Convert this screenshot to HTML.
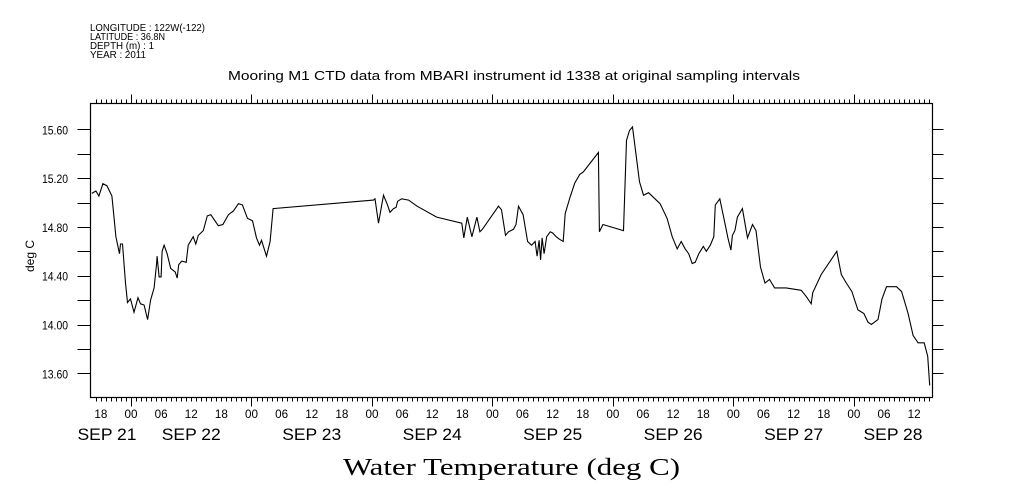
<!DOCTYPE html>
<html><head><meta charset="utf-8"><style>
body{margin:0;background:#fff;}
svg{display:block;font-family:"Liberation Sans",sans-serif;}
</style></head><body>
<svg id="c" width="1009" height="504">
<g font-size="10" fill="#000">
<text x="90" y="31" textLength="115" lengthAdjust="spacingAndGlyphs">LONGITUDE : 122W(-122)</text>
<text x="90" y="40" textLength="75" lengthAdjust="spacingAndGlyphs">LATITUDE : 36.8N</text>
<text x="90" y="49" textLength="64" lengthAdjust="spacingAndGlyphs">DEPTH (m) : 1</text>
<text x="90" y="58" textLength="56" lengthAdjust="spacingAndGlyphs">YEAR : 2011</text>
</g>
<text x="228" y="80" font-size="13" textLength="572" lengthAdjust="spacingAndGlyphs">Mooring M1 CTD data from MBARI instrument id 1338 at original sampling intervals</text>
<text x="34" y="256" font-size="12" text-anchor="middle" transform="rotate(-90 34 256)">deg C</text>
<text x="343" y="475" font-size="24" textLength="337" lengthAdjust="spacingAndGlyphs" font-family="Liberation Serif, serif">Water Temperature (deg C)</text>
<rect x="90.5" y="103.5" width="842" height="294" fill="none" stroke="#000" stroke-width="1.2"/>
<g id="ticks"></g>
<polyline id="line" fill="none" stroke="#000" stroke-width="1.1"/>
</svg>
<script>
// hours relative to SEP 22 00:00
const hours=[-7.8,-7.0,-6.4,-5.6,-4.8,-3.8,-3.0,-2.3,-2.1,-1.7,-1.1,-0.7,-0.1,0.6,1.4,1.9,2.6,3.3,3.9,4.6,5.1,5.2,5.6,6.0,6.2,6.6,7.2,7.9,8.8,9.2,9.5,10.1,11.0,11.4,12.4,12.9,13.4,14.4,15.2,15.9,17.4,18.3,19.4,20.4,21.4,22.2,23.2,24.2,25.0,25.6,26.0,27.0,27.7,28.3,48.3,48.6,49.3,50.3,51.1,51.6,52.3,52.8,53.1,53.9,55.3,57.0,60.9,65.9,66.3,67.0,67.9,68.9,69.5,70.0,73.2,73.8,74.6,75.2,76.2,76.7,77.2,78.1,79.0,79.8,80.5,80.9,81.3,81.6,81.9,82.3,82.8,83.5,84.0,84.7,85.3,86.1,86.5,87.5,88.4,89.4,90.1,93.1,93.3,94.0,98.1,98.7,99.3,99.9,101.3,102.1,103.1,105.4,106.8,107.8,108.8,109.6,110.4,111.1,111.8,112.4,113.1,114.0,114.6,115.4,116.1,116.4,117.3,118.1,118.9,119.5,119.8,120.3,120.8,121.8,122.8,123.8,124.5,125.4,126.3,127.2,128.2,130.5,133.5,134.5,135.5,135.8,137.5,138.8,140.6,141.5,142.5,143.6,144.8,146.0,146.8,147.5,148.8,149.6,150.5,152.5,153.5,154.8,155.8,156.8,158.0,158.7,159.1];
const temps=[15.075,15.094,15.053,15.154,15.138,15.053,14.72,14.58,14.66,14.66,14.34,14.18,14.21,14.10,14.22,14.17,14.16,14.04,14.20,14.30,14.50,14.56,14.39,14.39,14.60,14.65,14.58,14.46,14.43,14.38,14.49,14.52,14.51,14.65,14.72,14.66,14.73,14.77,14.89,14.90,14.81,14.82,14.90,14.93,14.99,14.98,14.87,14.85,14.71,14.65,14.69,14.56,14.68,14.95,15.02,15.03,14.83,15.06,14.98,14.92,14.95,14.96,15.01,15.03,15.02,14.97,14.88,14.83,14.71,14.88,14.72,14.88,14.76,14.78,14.97,14.94,14.73,14.76,14.78,14.82,14.97,14.90,14.68,14.65,14.68,14.56,14.69,14.53,14.71,14.58,14.72,14.76,14.75,14.72,14.70,14.68,14.91,15.05,15.16,15.23,15.25,15.41,14.76,14.82,14.77,15.51,15.59,15.62,15.17,15.06,15.08,14.99,14.87,14.72,14.62,14.68,14.62,14.58,14.50,14.51,14.58,14.64,14.60,14.65,14.72,14.98,15.03,14.87,14.71,14.61,14.73,14.77,14.88,14.95,14.71,14.82,14.77,14.47,14.34,14.37,14.30,14.30,14.28,14.23,14.17,14.26,14.41,14.49,14.60,14.41,14.34,14.27,14.12,14.09,14.02,14.00,14.04,14.21,14.31,14.31,14.27,14.09,13.91,13.85,13.85,13.74,13.50];
const yTickLabels=["13.60","14.00","14.40","14.80","15.20","15.60"];
const hourLabels=["18","00","06","12","18","00","06","12","18","00","06","12","18","00","06","12","18","00","06","12","18","00","06","12","18","00","06","12"];
const dateLabels=["SEP 21","SEP 22","SEP 23","SEP 24","SEP 25","SEP 26","SEP 27","SEP 28"];

const X0=131,PXH=5.02,L=90.5,R=932.5,T=103.5,B=397.5;
const xs=h=>X0+h*PXH;
const ys=v=>129.3+(15.6-v)*122;
const NS="http://www.w3.org/2000/svg";
const g=document.getElementById('ticks');
function ln(x1,y1,x2,y2,name){const e=document.createElementNS(NS,'line');
e.setAttribute('x1',x1);e.setAttribute('y1',y1);e.setAttribute('x2',x2);e.setAttribute('y2',y2);
e.setAttribute('stroke','#000');e.setAttribute('stroke-width','1');


g.appendChild(e);}
function tx(x,y,s,size,anchor,name,len){const e=document.createElementNS(NS,'text');
e.setAttribute('x',x);e.setAttribute('y',y);e.setAttribute('font-size',size);e.setAttribute('text-anchor',anchor);
if(len){e.setAttribute('textLength',len);e.setAttribute('lengthAdjust','spacingAndGlyphs');}
e.textContent=s;


g.appendChild(e);}
for(let h=-7;h<=159;h++){const x=Math.round(xs(h))+0.5;const big=((h%24)+24)%24===0;
ln(x,T,x,T-(big?9:4),'x-tick-top');ln(x,B,x,B+(big?9:4),'x-tick-bottom');}
for(let v=13.6;v<=15.61;v+=0.2){const y=Math.round(ys(v))+0.5;ln(L-13,y,L,y,'y-tick-left');ln(R,y,R+11,y,'y-tick-right');}
yTickLabels.forEach(s=>tx(68,ys(+s)+5,s,12,'end','y-tick-label',26));
hourLabels.forEach((s,i)=>tx(xs(-6+i*6),418,s,12,'middle','x-hour-label',13));
dateLabels.forEach((s,i)=>{let x=xs(-12+i*24);if(i===0)x=107;if(i===7)x=893;tx(x,440,s,17,'middle','x-date-label',59);});
document.getElementById('line').setAttribute('points',hours.map((h,i)=>xs(h).toFixed(1)+','+ys(temps[i]).toFixed(1)).join(' '));
</script>
</body></html>
